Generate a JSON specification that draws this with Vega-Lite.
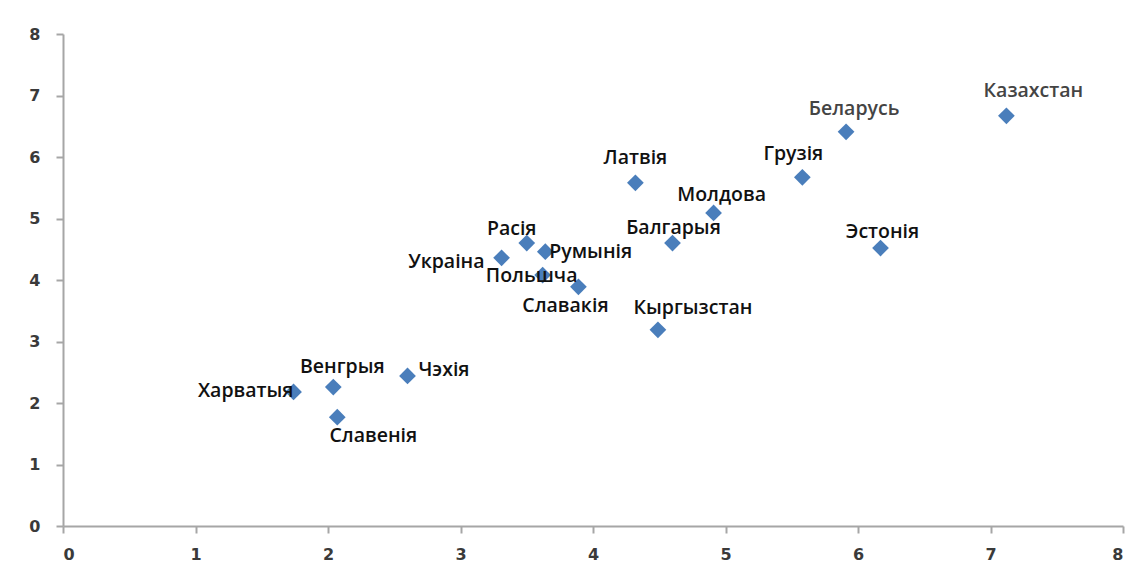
{
  "$schema": "https://vega.github.io/schema/vega-lite/v6.json",
  "autosize": {"type": "none"},
  "padding": {"left": 63, "top": 34, "right": 25, "bottom": 54},
  "width": 1060,
  "height": 492,
  "background": "white",
  "config": {"view": {"stroke": null}, "text": {"font": "Open Sans", "fontSize": 19.5, "fontWeight": 600, "baseline": "middle"}},
  "data": {"values": [
    {"country": "Харватыя", "x": 1.74, "y": 2.18},
    {"country": "Венгрыя", "x": 2.04, "y": 2.26},
    {"country": "Славенія", "x": 2.07, "y": 1.77},
    {"country": "Чэхія", "x": 2.60, "y": 2.44},
    {"country": "Украіна", "x": 3.31, "y": 4.36},
    {"country": "Расія", "x": 3.50, "y": 4.60},
    {"country": "Румынія", "x": 3.64, "y": 4.46},
    {"country": "Польшча", "x": 3.62, "y": 4.08},
    {"country": "Славакія", "x": 3.89, "y": 3.89},
    {"country": "Кыргызстан", "x": 4.49, "y": 3.19},
    {"country": "Балгарыя", "x": 4.60, "y": 4.60},
    {"country": "Молдова", "x": 4.91, "y": 5.09},
    {"country": "Латвія", "x": 4.32, "y": 5.58},
    {"country": "Грузія", "x": 5.58, "y": 5.67},
    {"country": "Беларусь", "x": 5.91, "y": 6.41},
    {"country": "Казахстан", "x": 7.12, "y": 6.67},
    {"country": "Эстонія", "x": 6.17, "y": 4.52}
  ]},
  "encoding": {
    "x": {"field": "x", "type": "quantitative", "scale": {"domain": [0, 8], "nice": false, "zero": true},
      "axis": {"title": null, "values": [0,1,2,3,4,5,6,7,8], "grid": false, "domainColor": "#a6a6a6", "domainWidth": 2, "tickColor": "#a6a6a6", "tickWidth": 2, "tickSize": 7, "labelPadding": 13, "labelFont": "DejaVu Sans", "labelFontWeight": "bold", "labelFontSize": 16, "labelColor": "#3a3a3a"}},
    "y": {"field": "y", "type": "quantitative", "scale": {"domain": [0, 8], "nice": false, "zero": true},
      "axis": {"title": null, "values": [0,1,2,3,4,5,6,7,8], "grid": false, "domainColor": "#a6a6a6", "domainWidth": 2, "tickColor": "#a6a6a6", "tickWidth": 2, "tickSize": 7, "labelPadding": 16, "labelFont": "DejaVu Sans", "labelFontWeight": "bold", "labelFontSize": 16, "labelColor": "#3a3a3a"}}
  },
  "layer": [
    {"mark": {"type": "point", "shape": "diamond", "filled": true, "size": 280, "color": "#4a7ebb", "opacity": 1}},
    {"transform": [{"filter": "datum.country == 'Харватыя'"}], "mark": {"type": "text", "align": "right", "dx": 0, "dy": -1, "color": "#111"}, "encoding": {"text": {"field": "country"}}},
    {"transform": [{"filter": "datum.country == 'Венгрыя'"}], "mark": {"type": "text", "align": "center", "dx": 9, "dy": -20, "color": "#111"}, "encoding": {"text": {"field": "country"}}},
    {"transform": [{"filter": "datum.country == 'Славенія'"}], "mark": {"type": "text", "align": "center", "dx": 36, "dy": 19, "color": "#111"}, "encoding": {"text": {"field": "country"}}},
    {"transform": [{"filter": "datum.country == 'Чэхія'"}], "mark": {"type": "text", "align": "left", "dx": 11, "dy": -6, "color": "#111"}, "encoding": {"text": {"field": "country"}}},
    {"transform": [{"filter": "datum.country == 'Украіна'"}], "mark": {"type": "text", "align": "right", "dx": -17, "dy": 4, "color": "#111"}, "encoding": {"text": {"field": "country"}}},
    {"transform": [{"filter": "datum.country == 'Расія'"}], "mark": {"type": "text", "align": "center", "dx": -15, "dy": -14, "color": "#111"}, "encoding": {"text": {"field": "country"}}},
    {"transform": [{"filter": "datum.country == 'Румынія'"}], "mark": {"type": "text", "align": "left", "dx": 4, "dy": 0, "color": "#111"}, "encoding": {"text": {"field": "country"}}},
    {"transform": [{"filter": "datum.country == 'Польшча'"}], "mark": {"type": "text", "align": "center", "dx": -11, "dy": 1, "color": "#111"}, "encoding": {"text": {"field": "country"}}},
    {"transform": [{"filter": "datum.country == 'Славакія'"}], "mark": {"type": "text", "align": "center", "dx": -13, "dy": 19, "color": "#111"}, "encoding": {"text": {"field": "country"}}},
    {"transform": [{"filter": "datum.country == 'Кыргызстан'"}], "mark": {"type": "text", "align": "center", "dx": 35, "dy": -22, "color": "#111"}, "encoding": {"text": {"field": "country"}}},
    {"transform": [{"filter": "datum.country == 'Балгарыя'"}], "mark": {"type": "text", "align": "center", "dx": 1, "dy": -15, "color": "#111"}, "encoding": {"text": {"field": "country"}}},
    {"transform": [{"filter": "datum.country == 'Молдова'"}], "mark": {"type": "text", "align": "center", "dx": 8, "dy": -18, "color": "#111"}, "encoding": {"text": {"field": "country"}}},
    {"transform": [{"filter": "datum.country == 'Латвія'"}], "mark": {"type": "text", "align": "center", "dx": 0, "dy": -25, "color": "#111"}, "encoding": {"text": {"field": "country"}}},
    {"transform": [{"filter": "datum.country == 'Грузія'"}], "mark": {"type": "text", "align": "center", "dx": -9, "dy": -23, "color": "#111"}, "encoding": {"text": {"field": "country"}}},
    {"transform": [{"filter": "datum.country == 'Беларусь'"}], "mark": {"type": "text", "align": "center", "dx": 8, "dy": -23, "color": "#444"}, "encoding": {"text": {"field": "country"}}},
    {"transform": [{"filter": "datum.country == 'Казахстан'"}], "mark": {"type": "text", "align": "center", "dx": 27, "dy": -25, "color": "#444"}, "encoding": {"text": {"field": "country"}}},
    {"transform": [{"filter": "datum.country == 'Эстонія'"}], "mark": {"type": "text", "align": "center", "dx": 2, "dy": -16, "color": "#111"}, "encoding": {"text": {"field": "country"}}}
  ]
}
